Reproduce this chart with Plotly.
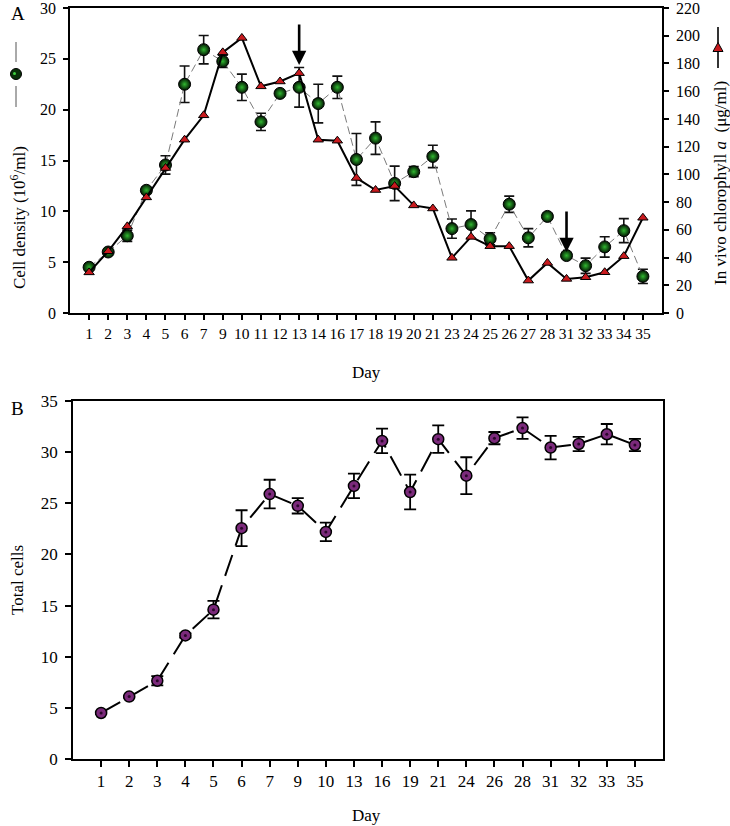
import plotly.graph_objects as go

# ---------------- Data ----------------
days_a = ["1", "2", "3", "4", "5", "6", "7", "9", "10", "11", "12", "13", "14", "16", "17",
          "18", "19", "20", "21", "23", "24", "25", "26", "27", "28", "31", "32", "33", "34", "35"]
cell_density = [4.5, 6.0, 7.6, 12.07, 14.56, 22.5, 25.9, 24.75, 22.2, 18.8, 21.6, 22.2, 20.6, 22.2, 15.1,
                17.2, 12.75, 13.9, 15.4, 8.3, 8.7, 7.3, 10.7, 7.4, 9.5, 5.65, 4.65, 6.5, 8.1, 3.6]
cell_density_err = [0.2, 0.15, 0.55, 0.3, 0.9, 1.8, 1.4, 0.6, 1.3, 0.85, 0.2, 1.95, 1.9, 1.1, 2.55,
                    1.6, 1.7, 0.5, 1.1, 0.95, 1.35, 0.6, 0.8, 0.9, 0.2, 0.2, 0.75, 1.0, 1.18, 0.7]
chlorophyll = [29.3, 44.5, 62.5, 83.4, 104.6, 125.0, 142.6, 188.0, 198.4, 163.5, 167.0, 173.0, 125.0, 124.3, 97.4,
               88.7, 91.6, 77.6, 75.4, 39.8, 54.9, 48.2, 48.2, 23.4, 36.1, 24.6, 25.8, 29.4, 41.0, 68.7]
arrow_days = ["13", "31"]
arrow_tips = [24.4, 6.0]

days_b = ["1", "2", "3", "4", "5", "6", "7", "9", "10", "13", "16", "19", "21", "24", "26", "28",
          "31", "32", "33", "35"]
total_cells = [4.5, 6.1, 7.65, 12.08, 14.6, 22.57, 25.9, 24.75, 22.2, 26.7, 31.1, 26.1, 31.27, 27.7,
               31.37, 32.35, 30.45, 30.8, 31.75, 30.7]
total_cells_err = [0.1, 0.1, 0.45, 0.2, 0.85, 1.75, 1.4, 0.75, 0.9, 1.2, 1.2, 1.7, 1.35, 1.8,
                   0.6, 1.05, 1.15, 0.7, 1.0, 0.6]

# ---------------- Helpers ----------------
W, H = 730, 826
FONT = "Liberation Serif, Times New Roman, serif"


def px(x):
    return x / W


def py(y):
    return 1 - y / H


fig = go.Figure()

# Panel A: cell density (green circles, dashed gray line)
fig.add_trace(go.Scatter(
    x=days_a, y=cell_density, xaxis="x", yaxis="y",
    mode="lines+markers",
    line=dict(color="#7a7a7a", width=1, dash="8px,4px"),
    marker=dict(size=12, color="#021402", line=dict(color="#000000", width=1),
                gradient=dict(type="radial", color="#30b830")),
    error_y=dict(type="data", array=cell_density_err, visible=True,
                 color="#111111", thickness=1.6, width=5),
    showlegend=False,
))

# Panel A: chlorophyll (red triangles, solid black line) on right axis
fig.add_trace(go.Scatter(
    x=days_a, y=chlorophyll, xaxis="x", yaxis="y2",
    mode="lines+markers",
    line=dict(color="#000000", width=2),
    marker=dict(symbol="triangle-up", size=9, color="#c81a1e",
                line=dict(color="#000000", width=1)),
    showlegend=False,
))

# Panel B: total cells
fig.add_trace(go.Scatter(
    x=days_b, y=total_cells, xaxis="x3", yaxis="y3",
    mode="lines+markers",
    line=dict(color="#000000", width=2, dash="22px,10px"),
    marker=dict(size=11, color="#7b2a7b", line=dict(color="#000000", width=1.5)),
    error_y=dict(type="data", array=total_cells_err, visible=True,
                 color="#000000", thickness=1.8, width=6),
    showlegend=False,
))
fig.add_trace(go.Scatter(
    x=days_b, y=total_cells, xaxis="x3", yaxis="y3",
    mode="markers",
    marker=dict(size=3, color="#2a062a"),
    showlegend=False, hoverinfo="skip",
))

axis_common = dict(
    showline=True, linecolor="#000000", linewidth=1.8,
    ticks="outside", tickcolor="#000000", tickwidth=1.5,
    showgrid=False, zeroline=False, automargin=False,
    ticklabeloverflow="allow",
    tickfont=dict(family=FONT, size=16, color="#000000"),
)

fig.update_layout(
    width=W, height=H,
    margin=dict(l=0, r=0, t=0, b=0, autoexpand=False),
    paper_bgcolor="#ffffff", plot_bgcolor="#ffffff",
    font=dict(family=FONT, color="#000000"),
    xaxis=dict(axis_common, domain=[px(70), px(662)], anchor="y", type="category",
               categoryorder="array", categoryarray=days_a,
               range=[-1, len(days_a)], ticklen=5, mirror=True,
               tickfont=dict(family=FONT, size=15.5, color="#000000")),
    yaxis=dict(axis_common, domain=[py(313), py(8)], anchor="x", range=[0, 30],
               dtick=5, ticklen=5, ticklabelstandoff=4),
    yaxis2=dict(axis_common, overlaying="y", side="right", anchor="x", range=[0, 220],
                dtick=20, ticklen=5, ticklabelstandoff=4),
    xaxis3=dict(axis_common, domain=[px(73), px(663)], anchor="y3", type="category",
                categoryorder="array", categoryarray=days_b,
                range=[-1, len(days_b)], ticklen=6, mirror=True,
                tickfont=dict(family=FONT, size=17, color="#000000")),
    yaxis3=dict(axis_common, domain=[py(759), py(401)], anchor="x3", range=[0, 35],
                dtick=5, ticklen=6, mirror=True,
                tickfont=dict(family=FONT, size=17, color="#000000"), ticklabelstandoff=4),
)

annotations = []
# Arrows (category axis: position given by the category index)
for d, tip in zip(arrow_days, arrow_tips):
    annotations.append(dict(
        x=days_a.index(d), y=tip, xref="x", yref="y", text="", showarrow=True,
        ax=0, ay=-42, arrowhead=2, arrowsize=1.1, arrowwidth=2.6, arrowcolor="#000000",
    ))


def label(text, x, y, size=17, angle=0, xanchor="center", yanchor="middle"):
    annotations.append(dict(
        text=text, x=px(x), y=py(y), xref="paper", yref="paper",
        showarrow=False, textangle=angle, xanchor=xanchor, yanchor=yanchor,
        font=dict(family=FONT, size=size, color="#000000"),
    ))


label("A", 9, 13, size=19, xanchor="left")
label("B", 9, 409, size=19, xanchor="left")
label("Cell density (10<sup>6</sup>/ml)", 18, 218, size=17, angle=-90)
label("In vivo chlorophyll <i>a</i>  (μg/ml)", 721, 183, size=17, angle=-90)
label("Day", 366, 372, size=17)
label("Day", 366, 815, size=17)
label("Total cells", 17, 580, size=17, angle=-90)

fig.update_layout(annotations=annotations)

# Legend-like symbols beside the axis titles (paper coords)
shapes = [
    dict(type="line", xref="paper", yref="paper", x0=px(16), x1=px(16), y0=py(42), y1=py(62),
         line=dict(color="#555555", width=1)),
    dict(type="line", xref="paper", yref="paper", x0=px(16), x1=px(16), y0=py(86), y1=py(107),
         line=dict(color="#555555", width=1)),
    dict(type="circle", xref="paper", yref="paper", x0=px(10.5), x1=px(21.5), y0=py(79.5), y1=py(68.5),
         fillcolor="#0a300a", line=dict(color="#000000", width=1)),
    dict(type="circle", xref="paper", yref="paper", x0=px(13), x1=px(16), y0=py(75), y1=py(72),
         fillcolor="#3fd03f", line=dict(width=0)),
    dict(type="line", xref="paper", yref="paper", x0=px(718), x1=px(718), y0=py(27), y1=py(43),
         line=dict(color="#000000", width=1.6)),
    dict(type="line", xref="paper", yref="paper", x0=px(718), x1=px(718), y0=py(51), y1=py(68),
         line=dict(color="#000000", width=1.6)),
    dict(type="path", xref="paper", yref="paper",
         path=f"M {px(713)} {py(51.5)} L {px(723)} {py(51.5)} L {px(718)} {py(42.5)} Z",
         fillcolor="#c81a1e", line=dict(color="#000000", width=1)),
]
fig.update_layout(shapes=shapes)

fig.write_html(
    "out.html",
    config={"displayModeBar": False},
    post_script="document.body.style.margin='0';document.body.style.padding='0';",
)
